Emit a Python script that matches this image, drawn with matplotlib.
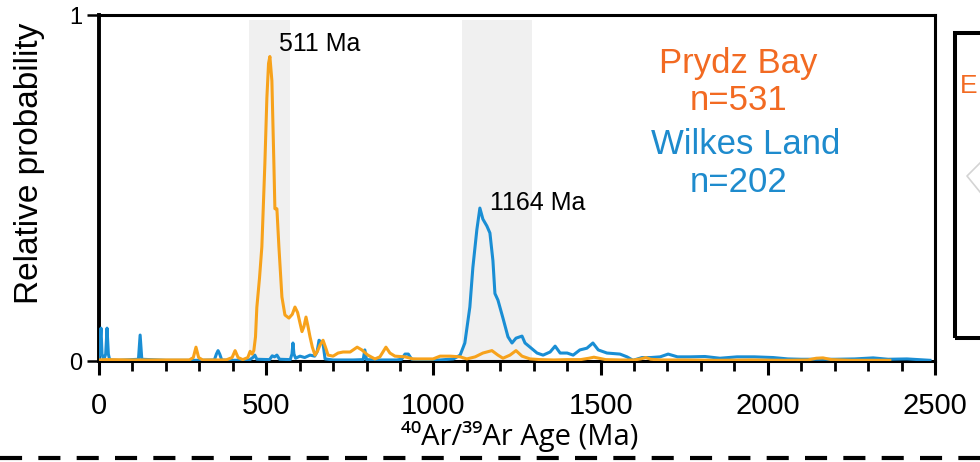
import matplotlib
matplotlib.use('Agg')
import matplotlib.pyplot as plt
from matplotlib.lines import Line2D
from matplotlib.patches import Rectangle

plt.rcParams['font.family'] = ['Liberation Sans', 'DejaVu Sans']

# Prydz Bay 40Ar/39Ar probability density
prydz_age = [0, 20, 100, 200, 270, 282, 290, 298, 310, 380, 398, 407, 416, 430, 445,
             452, 458, 463, 468, 472, 480, 487, 496, 502, 507, 511, 517, 523, 526,
             532, 538, 547, 556, 568, 578, 586, 594, 601, 607, 613, 619, 625, 631,
             638, 646, 654, 661, 670, 679, 685, 700, 715, 730, 751, 772, 786, 804,
             825, 840, 858, 870, 885, 915, 939, 999, 1020, 1050, 1080, 1100, 1125,
             1148, 1175, 1193, 1208, 1229, 1247, 1265, 1289, 1320, 1360, 1400, 1440,
             1465, 1480, 1495, 1515, 1560, 1600, 1620, 1635, 1650, 1680, 1750, 1850,
             1950, 2050, 2120, 2145, 2165, 2190, 2250, 2320, 2365]
prydz_prob = [0.003, 0.004, 0.003, 0.003, 0.003, 0.01, 0.04, 0.01, 0.003, 0.003, 0.01,
              0.03, 0.01, 0.004, 0.01, 0.028, 0.02, 0.03, 0.07, 0.155, 0.24, 0.33,
              0.57, 0.76, 0.86, 0.88, 0.81, 0.57, 0.44, 0.44, 0.33, 0.185, 0.133,
              0.124, 0.135, 0.156, 0.14, 0.11, 0.085, 0.1, 0.127, 0.1, 0.07, 0.04,
              0.017, 0.03, 0.046, 0.06, 0.035, 0.017, 0.014, 0.023, 0.026, 0.026,
              0.04, 0.032, 0.017, 0.006, 0.012, 0.04, 0.023, 0.014, 0.012, 0.006,
              0.006, 0.014, 0.014, 0.012, 0.006, 0.012, 0.023, 0.03, 0.017, 0.008,
              0.017, 0.03, 0.014, 0.006, 0.004, 0.003, 0.004, 0.004, 0.008, 0.011,
              0.008, 0.004, 0.003, 0.003, 0.006, 0.01, 0.005, 0.003, 0.003, 0.002,
              0.003, 0.002, 0.003, 0.008, 0.009, 0.004, 0.002, 0.002, 0.002]

# Wilkes Land 40Ar/39Ar probability density
wilkes_age = [0, 3, 6, 9, 14, 20, 24, 28, 32, 60, 118, 123, 128, 200, 300, 345, 351,
              356, 361, 367, 400, 450, 460, 466, 472, 510, 518, 525, 532, 540, 572,
              577, 580, 583, 588, 601, 615, 631, 645, 652, 658, 664, 670, 676, 700,
              760, 790, 795, 800, 830, 890, 905, 915, 925, 935, 980, 1020, 1060,
              1080, 1094, 1109, 1118, 1130, 1139, 1148, 1160, 1169, 1178, 1184,
              1193, 1208, 1223, 1235, 1247, 1265, 1274, 1289, 1310, 1328, 1349,
              1364, 1379, 1400, 1418, 1438, 1459, 1477, 1493, 1519, 1558, 1579,
              1597, 1624, 1650, 1678, 1702, 1730, 1767, 1812, 1857, 1908, 1960,
              2016, 2060, 2100, 2200, 2260, 2315, 2360, 2416, 2485]
wilkes_prob = [0.0, 0.05, 0.095, 0.02, 0.003, 0.02, 0.095, 0.02, 0.003, 0.002, 0.005,
               0.075, 0.005, 0.002, 0.002, 0.003, 0.02, 0.03, 0.02, 0.003, 0.002,
               0.003, 0.01, 0.017, 0.005, 0.004, 0.015, 0.012, 0.017, 0.005, 0.004,
               0.02, 0.052, 0.02, 0.008, 0.014, 0.01, 0.017, 0.014, 0.026, 0.06,
               0.055, 0.05, 0.006, 0.003, 0.003, 0.004, 0.032, 0.004, 0.003, 0.003,
               0.005, 0.02, 0.02, 0.005, 0.003, 0.003, 0.006, 0.017, 0.052, 0.156,
               0.27, 0.38, 0.442, 0.41, 0.39, 0.37, 0.29, 0.195, 0.176, 0.124,
               0.07, 0.052, 0.066, 0.072, 0.052, 0.04, 0.023, 0.017, 0.026, 0.043,
               0.023, 0.023, 0.017, 0.032, 0.037, 0.052, 0.032, 0.023, 0.02, 0.012,
               0.002, 0.01, 0.01, 0.012, 0.02, 0.012, 0.012, 0.013, 0.008, 0.012,
               0.012, 0.01, 0.006, 0.005, 0.005, 0.006, 0.009, 0.005, 0.006, 0.002]

# shaded age windows (Ma)
bands = [(450, 570), (1085, 1295)]
peak_labels = ['511 Ma', '1164 Ma']
peak_ages = [511, 1164]
peak_heights = [0.88, 0.442]

orange_line = '#F7A21B'
blue_line = '#1A8ED4'
orange_text = '#F26A22'
blue_text = '#1E8BCD'

fig = plt.figure(figsize=(9.8, 4.62), dpi=100)
ax = fig.add_axes([99 / 980, 1 - 361 / 462, 836 / 980, 346 / 462])

for lo, hi in bands:
    ax.axvspan(lo, hi, ymin=0, ymax=0.985, color='#f0f0f0', lw=0, zorder=0)

ax.plot(wilkes_age, wilkes_prob, color=blue_line, lw=2.2, zorder=3)
ax.plot(prydz_age, prydz_prob, color=orange_line, lw=2.2, zorder=4)

ax.text(peak_ages[0] + 27, peak_heights[0] + 0.035, peak_labels[0], fontsize=18,
        ha='left', va='center')
ax.text(peak_ages[1] + 5, peak_heights[1] + 0.015, peak_labels[1], fontsize=18,
        ha='left', va='center')

ax.text(1912, 0.86, 'Prydz Bay', color=orange_text, fontsize=25, ha='center', va='center')
ax.text(1912, 0.752, 'n=531', color=orange_text, fontsize=25, ha='center', va='center')
ax.text(1935, 0.626, 'Wilkes Land', color=blue_text, fontsize=25, ha='center', va='center')
ax.text(1912, 0.516, 'n=202', color=blue_text, fontsize=25, ha='center', va='center')

ax.set_xlim(0, 2500)
ax.set_ylim(0, 1)
ax.set_xticks(range(0, 2501, 500))
ax.set_xticks(range(0, 2501, 100), minor=True)
ax.set_yticks([0, 1])
ax.set_yticklabels(['0', '1'])
ax.tick_params(axis='x', which='major', length=10, width=2.2, labelsize=21, pad=12)
ax.tick_params(axis='x', which='minor', length=7, width=2.0)
ax.tick_params(axis='y', which='major', length=9, width=1.8, labelsize=17, pad=3)

for side in ['top', 'right', 'bottom']:
    ax.spines[side].set_linewidth(2.2)
ax.spines['left'].set_linewidth(2.8)

fig.text(30 / 980, 1 - 163 / 462, 'Relative probability', rotation=90, fontsize=24,
         ha='center', va='center')
fig.text(520 / 980, 1 - 437 / 462, '\u2074\u2070Ar/\u00b3\u2079Ar Age (Ma)', fontsize=21,
         ha='center', va='center', family=['Open Sans', 'DejaVu Sans'])

# neighbouring panel frame on the right
fig.patches.append(Rectangle((955 / 980, 1 - 338 / 462), 0.1, 305 / 462, fill=False,
                             lw=2.9, edgecolor='black', transform=fig.transFigure))
fig.text(960 / 980, 1 - 86 / 462, 'E', color=orange_text, fontsize=19, ha='left', va='center')
fig.lines.append(Line2D([980 / 980, 967 / 980, 980 / 980],
                        [1 - 163 / 462, 1 - 176 / 462, 1 - 192 / 462],
                        color='#d4d4d4', lw=1.2, transform=fig.transFigure))

# dashed separator along the bottom edge
fig.lines.append(Line2D([0, 1], [1 - 458 / 462, 1 - 458 / 462], color='black', lw=3.0,
                        linestyle=(0, (5.3, 3.9)), transform=fig.transFigure))

fig.savefig('out.png', dpi=100)
